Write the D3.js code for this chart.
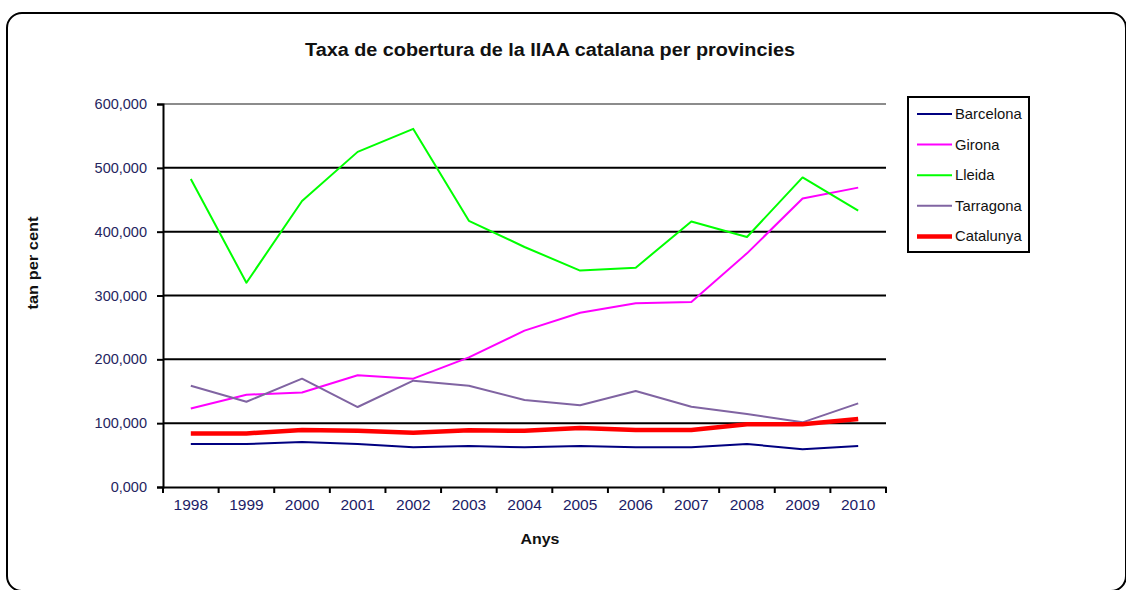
<!DOCTYPE html>
<html>
<head>
<meta charset="utf-8">
<script src="https://cdn.jsdelivr.net/npm/d3@7/dist/d3.min.js"></script>
<style>
  html, body { margin: 0; padding: 0; background: #fff; }
  svg { display: block; font-family: "Liberation Sans", Arial, sans-serif; }
</style>
</head>
<body>
<svg id="chart" width="1126" height="590"></svg>
<script>
// Years on the category axis
const years = ["1998","1999","2000","2001","2002","2003","2004","2005","2006","2007","2008","2009","2010"];

// Coverage rate per province (per cent)
const barcelona = [67.4, 67.4, 70.5, 67.4, 62.2, 64.2, 62.2, 64.2, 62.2, 62.2, 67.4, 59.0, 64.2];
const girona    = [123.0, 144.6, 148.0, 175.0, 169.7, 203.0, 245.0, 273.0, 288.0, 290.0, 366.0, 452.0, 469.0];
const lleida    = [482.5, 320.0, 448.0, 525.0, 561.0, 417.0, 376.0, 339.0, 343.6, 416.0, 391.7, 485.0, 433.0];
const tarragona = [158.7, 133.6, 169.7, 125.3, 166.5, 158.7, 136.3, 128.0, 150.4, 125.8, 114.4, 101.3, 131.0];
const catalunya = [84.0, 84.0, 89.3, 88.2, 85.0, 89.0, 88.0, 92.4, 89.3, 89.3, 98.2, 98.2, 106.5];

const yTicks = [0, 100, 200, 300, 400, 500, 600];

const series = [
  { name: "Barcelona", values: barcelona, color: "#000080", width: 2 },
  { name: "Girona",    values: girona,    color: "#ff00ff", width: 2 },
  { name: "Lleida",    values: lleida,    color: "#00ff00", width: 2 },
  { name: "Tarragona", values: tarragona, color: "#8064a2", width: 2 },
  { name: "Catalunya", values: catalunya, color: "#ff0000", width: 4.5 }
];

const svg = d3.select("#chart");

// Outer chart frame (runs slightly past the right and bottom edges)
svg.append("rect")
  .attr("x", 7).attr("y", 13)
  .attr("width", 1119).attr("height", 578)
  .attr("rx", 15).attr("ry", 15)
  .attr("fill", "#fff").attr("stroke", "#000").attr("stroke-width", 2);

const plot = { left: 163, right: 886, top: 104, bottom: 487 };

const x = d3.scaleBand().domain(years).range([plot.left, plot.right]).padding(0);
const y = d3.scaleLinear().domain([0, 600]).range([plot.bottom, plot.top]);

// Tick labels written with a decimal comma and three decimals
const tickText = v => d3.format(".3f")(v).replace(".", ",");

// Horizontal gridlines
svg.append("g")
  .selectAll("line")
  .data(yTicks.filter(t => t > 0))
  .join("line")
  .attr("x1", plot.left).attr("x2", plot.right)
  .attr("y1", d => y(d)).attr("y2", d => y(d))
  .attr("stroke", d => d === 600 ? "#8c8c8c" : "#000")
  .attr("stroke-width", 2);

// Y axis
const yAxis = svg.append("g")
  .attr("transform", `translate(${plot.left},0)`)
  .call(d3.axisLeft(y).tickValues(yTicks).tickSize(6).tickPadding(10).tickFormat(tickText));
yAxis.select(".domain").attr("stroke", "#000").attr("stroke-width", 2);
yAxis.selectAll(".tick line").attr("stroke", "#000").attr("stroke-width", 2);
yAxis.selectAll(".tick text")
  .attr("fill", "#25255e").attr("font-size", 14.5)
  .attr("font-family", "Liberation Sans, Arial, sans-serif");

// X axis with ticks at category boundaries
const xAxis = svg.append("g")
  .attr("transform", `translate(0,${plot.bottom})`)
  .call(d3.axisBottom(x).tickSize(0).tickPadding(12));
xAxis.select(".domain").attr("stroke", "#000").attr("stroke-width", 2);
xAxis.selectAll(".tick text")
  .attr("fill", "#1c1c66").attr("font-size", 15.5)
  .attr("font-family", "Liberation Sans, Arial, sans-serif");
xAxis.append("g")
  .selectAll("line")
  .data(d3.range(years.length + 1))
  .join("line")
  .attr("x1", i => plot.left + i * x.bandwidth())
  .attr("x2", i => plot.left + i * x.bandwidth())
  .attr("y1", 0).attr("y2", 6)
  .attr("stroke", "#000").attr("stroke-width", 2);

// Series lines
const line = d3.line()
  .x((d, i) => x(years[i]) + x.bandwidth() / 2)
  .y(d => y(d));

svg.append("g")
  .selectAll("path")
  .data(series)
  .join("path")
  .attr("d", s => line(s.values))
  .attr("fill", "none")
  .attr("stroke", s => s.color)
  .attr("stroke-width", s => s.width)
  .attr("stroke-linejoin", "round");

// Title
svg.append("text")
  .attr("x", 550).attr("y", 56)
  .attr("text-anchor", "middle")
  .attr("font-size", 18).attr("font-weight", "bold")
  .attr("textLength", 490).attr("lengthAdjust", "spacingAndGlyphs")
  .attr("fill", "#111")
  .text("Taxa de cobertura de la IIAA catalana per provincies");

// Axis titles
svg.append("text")
  .attr("transform", "translate(38,263) rotate(-90)")
  .attr("text-anchor", "middle")
  .attr("font-size", 14).attr("font-weight", "bold")
  .attr("textLength", 93).attr("lengthAdjust", "spacingAndGlyphs")
  .attr("fill", "#111")
  .text("tan per cent");

svg.append("text")
  .attr("x", 540).attr("y", 544)
  .attr("text-anchor", "middle")
  .attr("font-size", 15).attr("font-weight", "bold")
  .attr("textLength", 39).attr("lengthAdjust", "spacingAndGlyphs")
  .attr("fill", "#111")
  .text("Anys");

// Legend
const legend = svg.append("g");
legend.append("rect")
  .attr("x", 908).attr("y", 97)
  .attr("width", 121).attr("height", 155)
  .attr("fill", "#fff").attr("stroke", "#000").attr("stroke-width", 2);

const rows = legend.selectAll("g.row")
  .data(series)
  .join("g")
  .attr("class", "row")
  .attr("transform", (d, i) => `translate(0,${114 + i * 30.6})`);
rows.append("line")
  .attr("x1", 917).attr("x2", 952)
  .attr("y1", 0).attr("y2", 0)
  .attr("stroke", d => d.color)
  .attr("stroke-width", d => d.width);
rows.append("text")
  .attr("x", 955).attr("y", 5)
  .attr("font-size", 14.8)
  .attr("fill", "#111")
  .text(d => d.name);
</script>
</body>
</html>
